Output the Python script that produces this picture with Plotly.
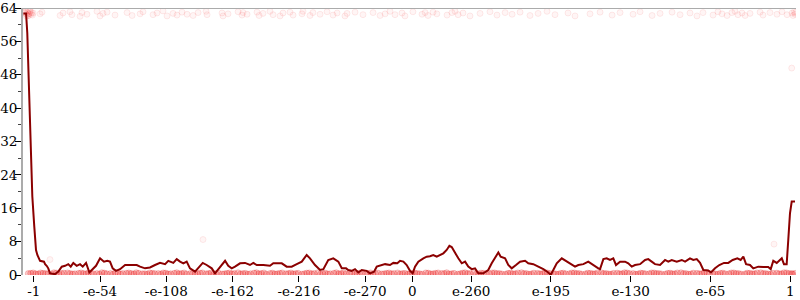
import plotly.graph_objects as go

# Horizontal positions use a signed-exponent scale:
#   -e-k  ->  k - 308.5      0 -> 0      e-k -> 308 - k
tick_pos = [-308.5, -254.5, -200.5, -146.5, -92.5, -38.5, 0, 48, 113, 178, 243, 308]
tick_text = ["-1", "-e-54", "-e-108", "-e-162", "-e-216", "-e-270", "0",
             "e-260", "e-195", "e-130", "e-65", "1"]

line_pos = [
    -317.0, -314.8, -313.8, -312.4, -311.3, -310.8, -309.7, -308.1, -306.7, -305.6,
    -303.4, -300.2, -299.3, -298.0, -296.7, -295.3, -291.2, -288.5,
    -285.7, -283.0, -280.4, -278.4, -276.3, -273.5, -270.8, -268.6, -265.9, -263.2,
    -260.5, -257.8, -254.5, -251.3, -248.6, -246.4, -244.2, -241.5, -238.2, -234.1,
    -224.6, -221.9, -217.8, -213.8, -209.7, -205.6, -201.5, -198.9, -194.8, -192.0,
    -189.3, -186.6, -183.9, -181.2, -177.1, -174.4, -170.8, -167.6, -163.5, -160.8, -156.7,
    -152.6, -150.0, -147.2, -144.5, -140.4, -136.3, -132.3, -129.6, -126.8, -121.4,
    -116.0, -113.3, -106.4, -102.4, -98.3, -94.2, -90.1, -86.1, -83.4, -79.3,
    -75.2, -72.5, -68.5, -64.4, -60.3, -57.5, -54.0, -52.2, -49.4, -46.7,
    -44.0, -41.2, -37.2, -34.5, -31.2, -29.0, -26.3, -22.2, -18.2, -15.5,
    -12.2, -10.0, -7.3, -4.6, -1.9, 0.3,
    2.2, 4.9, 9.0, 11.7, 14.4, 17.1, 19.9, 22.6, 25.3, 28.0,
    30.2, 32.1, 34.8, 37.5, 40.3, 43.0, 45.6, 48.4, 51.1, 53.8,
    57.9, 61.9, 64.7, 67.4, 70.1, 72.0, 75.6, 78.2, 81.0, 84.5,
    87.8, 91.9, 94.5, 98.6, 102.7, 106.8, 110.8, 112.8, 114.9, 117.7,
    121.8, 125.8, 128.5, 132.6, 135.3, 139.4, 143.4, 146.2, 148.9, 151.6, 153.0,
    155.7, 158.4, 161.1, 163.8, 166.0, 169.3, 173.4, 176.0, 178.8, 181.5,
    185.6, 189.7, 192.3, 195.1, 197.8, 201.9, 206.0, 208.6, 211.4, 215.5,
    219.6, 222.3, 226.3, 229.0, 231.8, 234.5, 237.2, 241.2, 243.4, 246.7,
    250.2, 254.0, 257.5, 261.1, 264.9, 267.6, 269.8, 272.0, 275.2, 277.9,
    282.0, 286.1, 290.1, 292.1, 294.2, 297.0, 301.1, 302.9, 305.1, 306.4,
    307.8, 309.2, 311.9,
]
line_val = [
    62.7, 62.7, 58.0, 45.0, 32.0, 26.0, 18.8, 11.6, 6.0, 4.8,
    3.4, 3.2, 2.6, 2.2, 1.6, 0.4, 0.2, 0.8,
    2.0, 2.2, 2.6, 2.0, 2.9, 2.2, 2.6, 2.0, 2.9, 0.6,
    1.4, 2.2, 4.0, 3.2, 3.4, 3.2, 1.6, 1.0, 1.4, 2.4,
    2.4, 2.0, 1.6, 1.8, 2.4, 2.9, 2.6, 3.4, 2.9, 3.8,
    3.2, 2.8, 3.2, 1.6, 0.8, 1.6, 2.9, 2.4, 1.6, 0.4, 2.0,
    3.4, 2.2, 1.6, 2.0, 2.8, 2.9, 2.4, 2.9, 2.4, 2.4,
    2.2, 2.8, 2.8, 2.0, 2.0, 2.6, 3.2, 4.8, 4.0, 2.4,
    1.2, 1.4, 3.6, 4.0, 3.2, 1.6, 1.6, 1.2, 1.0, 1.4,
    0.6, 1.2, 1.0, 0.4, 0.8, 2.0, 2.2, 2.6, 2.4, 2.9,
    2.8, 3.4, 3.2, 2.4, 1.0, 0.4,
    2.0, 3.2, 4.0, 4.4, 4.5, 4.8, 4.4, 4.8, 5.2, 6.0,
    7.0, 6.7, 5.2, 4.0, 2.8, 3.2, 2.0, 1.4, 1.6, 0.4,
    0.4, 1.2, 2.8, 4.0, 5.4, 4.4, 4.0, 2.4, 1.6, 2.4,
    3.2, 3.4, 2.8, 2.6, 2.0, 1.4, 0.6, 0.0, 1.2, 2.8,
    4.0, 3.2, 2.8, 2.0, 2.4, 2.6, 3.2, 2.6, 2.0, 1.6, 1.4,
    3.8, 4.0, 3.6, 4.0, 2.4, 3.2, 3.2, 2.8, 2.0, 2.4,
    2.6, 3.6, 3.8, 3.2, 2.6, 2.4, 3.6, 3.2, 3.6, 3.2,
    3.6, 3.2, 4.0, 3.6, 3.8, 2.9, 1.2, 1.1, 0.6, 1.6,
    2.4, 2.9, 2.9, 3.6, 4.0, 3.6, 4.4, 2.6, 2.4, 1.6,
    2.0, 1.9, 1.9, 1.4, 3.4, 2.9, 4.0, 2.6, 2.6, 8.4,
    14.8, 17.6, 17.6,
]

top_dots = [
    (-316.0, 63.0), (-315.7, 62.8), (-315.0, 63.2), (-314.7, 62.0), (-314.4, 62.4),
    (-313.8, 62.9), (-313.5, 62.1), (-313.2, 63.4), (-312.8, 62.6), (-312.6, 62.2),
    (-312.0, 62.7), (-311.7, 63.3), (-311.4, 63.1), (-310.8, 62.5), (-310.2, 62.9),
    (-309.6, 62.3), (-309.0, 62.8),
    (-303.4, 62.6), (-301.8, 63.0), (-287.1, 62.2), (-284.7, 62.8), (-279.0, 63.1),
    (-277.4, 62.4), (-270.8, 62.0), (-269.2, 62.9), (-265.2, 62.5), (-257.0, 63.2),
    (-254.5, 62.1), (-252.1, 62.7), (-248.8, 63.0), (-242.3, 62.3), (-232.5, 62.9),
    (-228.4, 62.2), (-221.9, 62.6), (-219.5, 63.1), (-211.3, 62.4), (-208.1, 62.8),
    (-203.2, 63.3), (-199.9, 62.1), (-195.0, 62.7), (-191.8, 62.3), (-187.7, 63.0),
    (-183.6, 62.5), (-178.7, 62.2), (-174.6, 62.9), (-168.1, 63.2), (-167.3, 62.4),
    (-155.1, 62.8), (-154.3, 62.1), (-150.2, 62.6), (-142.0, 63.1), (-138.8, 62.3),
    (-138.0, 62.9), (-134.7, 62.5), (-126.6, 63.0), (-124.9, 62.2), (-121.7, 62.7),
    (-116.0, 63.2), (-113.5, 62.4), (-107.8, 62.1), (-105.4, 62.8), (-99.7, 63.0),
    (-97.2, 62.3), (-89.9, 62.6), (-89.1, 63.2), (-83.4, 62.2), (-81.0, 62.9),
    (-75.2, 62.5), (-69.5, 63.1), (-64.6, 62.3), (-61.3, 62.8), (-54.9, 62.1),
    (-53.2, 62.7), (-46.7, 63.0), (-40.2, 62.4), (-32.0, 62.9), (-26.3, 62.2),
    (-22.2, 62.6), (-18.2, 63.2), (-14.1, 62.4), (-8.4, 62.8), (-6.0, 62.1),
    (0.5, 63.1), (7.9, 62.5), (10.4, 62.9), (12.8, 62.2), (16.9, 63.0),
    (20.0, 62.6), (28.3, 62.3), (32.3, 62.9), (34.8, 63.2), (37.3, 62.4),
    (41.3, 62.8), (47.0, 62.1), (55.2, 62.7), (63.3, 63.1), (69.0, 62.3),
    (75.6, 62.9), (81.3, 62.5), (87.8, 63.0), (95.9, 62.2), (102.5, 62.7),
    (109.8, 63.2), (116.3, 62.4), (126.9, 62.8), (132.6, 62.1), (144.8, 62.6),
    (153.0, 63.0), (162.8, 62.3), (169.3, 62.9), (179.9, 62.5), (185.6, 63.1),
    (195.4, 62.2), (201.9, 62.7), (211.7, 63.0), (218.2, 62.4), (226.3, 62.8),
    (232.0, 62.1), (236.9, 62.9), (245.1, 62.3), (249.1, 63.1), (252.4, 62.6),
    (256.5, 62.2), (260.5, 62.9), (263.0, 63.2), (265.4, 62.4), (268.7, 62.8),
    (271.2, 62.2), (275.2, 62.7), (283.4, 63.0), (285.8, 62.3), (291.5, 62.9),
    (297.2, 62.5), (301.3, 63.1), (305.4, 62.4),
    (309.5, 62.8), (310.3, 62.2), (311.1, 63.0), (311.9, 62.5), (312.4, 62.9),
]

bottom_dots = [
    (-313, 0.35), (-309, 0.5), (-305, 0.25), (-301, 0.4), (-297, 0.3), (-292, 0.55),
    (-288, 0.2), (-284, 0.45), (-279, 0.35), (-275, 0.3), (-270, 0.5), (-266, 0.25),
    (-262, 0.4), (-257, 0.35), (-253, 0.55), (-249, 0.3), (-244, 0.2), (-240, 0.45),
    (-236, 0.35), (-231, 0.5), (-227, 0.25), (-223, 0.4), (-218, 0.3), (-214, 0.5),
    (-210, 0.35), (-205, 0.2), (-201, 0.45), (-197, 0.3), (-192, 0.55), (-188, 0.35),
    (-184, 0.25), (-179, 0.4), (-175, 0.3), (-171, 0.5), (-166, 0.35), (-162, 0.2),
    (-158, 0.45), (-153, 0.3), (-149, 0.5), (-145, 0.35), (-140, 0.25), (-136, 0.4),
    (-132, 0.3), (-127, 0.55), (-123, 0.35), (-119, 0.2), (-114, 0.45), (-110, 0.3),
    (-106, 0.5), (-101, 0.35), (-97, 0.25), (-93, 0.4), (-88, 0.3), (-84, 0.5),
    (-80, 0.35), (-75, 0.2), (-71, 0.45), (-67, 0.3), (-62, 0.55), (-58, 0.35),
    (-54, 0.25), (-49, 0.4), (-45, 0.3), (-41, 0.5), (-36, 0.35), (-32, 0.2),
    (-28, 0.45), (-23, 0.3), (-19, 0.5), (-15, 0.35), (-10, 0.25), (-6, 0.4), (-2, 0.3),
    (2, 0.45), (6, 0.3), (11, 0.5), (15, 0.25), (19, 0.4), (24, 0.35), (28, 0.55),
    (32, 0.3), (37, 0.2), (41, 0.45), (45, 0.35), (50, 0.5), (54, 0.25), (58, 0.4),
    (63, 0.3), (67, 0.5), (71, 0.35), (76, 0.2), (80, 0.45), (84, 0.3), (89, 0.55),
    (93, 0.35), (97, 0.25), (102, 0.4), (106, 0.3), (110, 0.5), (115, 0.35), (119, 0.2),
    (123, 0.45), (128, 0.3), (132, 0.5), (136, 0.35), (141, 0.25), (145, 0.4), (149, 0.3),
    (154, 0.55), (158, 0.35), (162, 0.2), (167, 0.45), (171, 0.3), (175, 0.5), (180, 0.35),
    (184, 0.25), (188, 0.4), (193, 0.3), (197, 0.5), (201, 0.35), (206, 0.2), (210, 0.45),
    (214, 0.3), (219, 0.55), (223, 0.35), (227, 0.25), (232, 0.4), (236, 0.3), (240, 0.5),
    (245, 0.35), (249, 0.2), (253, 0.45), (258, 0.3), (262, 0.5), (266, 0.35), (271, 0.25),
    (275, 0.4), (279, 0.3), (284, 0.55), (288, 0.35), (292, 0.2), (297, 0.45), (301, 0.3),
    (305, 0.5), (309, 0.35), (312, 0.4),
    (-311, 0.4), (-307, 0.3), (-303, 0.5), (-299, 0.35), (-294, 0.25), (-290, 0.45),
    (-286, 0.35), (-281, 0.5), (-277, 0.25), (-272, 0.4), (-268, 0.35), (-264, 0.5),
    (-260, 0.3), (-255, 0.2), (-251, 0.45), (-246, 0.35), (-242, 0.5), (-238, 0.25),
    (-233, 0.4), (-229, 0.35), (-225, 0.55), (-220, 0.3), (-216, 0.2), (-212, 0.4),
    (-207, 0.35), (-203, 0.5), (-199, 0.25), (-194, 0.4), (-190, 0.3), (-186, 0.5),
    (-181, 0.35), (-177, 0.2), (-173, 0.45), (-168, 0.3), (-164, 0.5), (-160, 0.35),
    (-155, 0.25), (-151, 0.4), (-147, 0.3), (-142, 0.55), (-138, 0.35), (-134, 0.2),
    (-129, 0.45), (-125, 0.3), (-121, 0.5), (-116, 0.35), (-112, 0.25), (-108, 0.4),
    (-103, 0.3), (-99, 0.5), (-95, 0.35), (-90, 0.2), (-86, 0.45), (-82, 0.3),
    (-77, 0.55), (-73, 0.35), (-69, 0.25), (-64, 0.4), (-60, 0.3), (-56, 0.5),
    (-51, 0.35), (-47, 0.2), (-43, 0.45), (-38, 0.3), (-34, 0.5), (-30, 0.35),
    (-25, 0.25), (-21, 0.4), (-17, 0.3), (-12, 0.5), (-8, 0.35), (-4, 0.2), (0, 0.4),
    (4, 0.35), (8, 0.2), (13, 0.45), (17, 0.3), (21, 0.5), (26, 0.35), (30, 0.25),
    (34, 0.4), (39, 0.3), (43, 0.55), (47, 0.35), (52, 0.2), (56, 0.45), (60, 0.3),
    (65, 0.5), (69, 0.35), (73, 0.25), (78, 0.4), (82, 0.3), (86, 0.5), (91, 0.35),
    (95, 0.2), (99, 0.45), (104, 0.3), (108, 0.55), (112, 0.35), (117, 0.25), (121, 0.4),
    (125, 0.3), (130, 0.5), (134, 0.35), (138, 0.2), (143, 0.45), (147, 0.3), (151, 0.5),
    (156, 0.35), (160, 0.25), (164, 0.4), (169, 0.3), (173, 0.55), (177, 0.35), (182, 0.2),
    (186, 0.45), (190, 0.3), (195, 0.5), (199, 0.35), (203, 0.25), (208, 0.4), (212, 0.3),
    (216, 0.5), (221, 0.35), (225, 0.2), (229, 0.45), (234, 0.3), (238, 0.55), (242, 0.35),
    (247, 0.25), (251, 0.4), (255, 0.3), (260, 0.5), (264, 0.35), (268, 0.2), (273, 0.45),
    (277, 0.3), (281, 0.5), (286, 0.35), (290, 0.25), (294, 0.4), (299, 0.3), (303, 0.55),
    (307, 0.35), (310, 0.25),
]

stray_dots = [(-295.3, 3.7), (-170.6, 8.5), (294.8, 7.4), (309.2, 49.6)]

X_RANGE = [-317.3, 312.7]
Y_RANGE = [0, 64]
FONT = dict(family="DejaVu Serif", size=13.5, color="#000")
AXIS_GRAY = "#ababab"

fig = go.Figure()


def add_dots(pts, fill, edge):
    fig.add_trace(go.Scatter(
        x=[p[0] for p in pts], y=[p[1] for p in pts], mode="markers",
        marker=dict(size=6, color=fill, line=dict(color=edge, width=1)),
        showlegend=False, hoverinfo="skip"))


add_dots(top_dots + stray_dots, "rgba(255,0,0,0.04)", "rgba(230,0,0,0.08)")
add_dots(bottom_dots, "rgba(240,0,0,0.2)", "rgba(220,0,0,0.2)")

fig.add_trace(go.Scatter(
    x=line_pos, y=line_val, mode="lines",
    line=dict(color="#8b0000", width=2),
    showlegend=False, hoverinfo="skip"))

minor_out = dict(ticks="outside", ticklen=3, dtick=4, tick0=0, tickcolor="#444", showgrid=False)
minor_in = dict(ticks="inside", ticklen=3, dtick=4, tick0=0, tickcolor="#444", showgrid=False)
base_y = dict(range=Y_RANGE, dtick=8, tick0=0, showgrid=False, zeroline=False,
              tickcolor="#000", tickwidth=1, automargin=False)

fig.update_layout(
    template="none",
    width=800, height=300,
    margin=dict(l=23, r=4, t=8, b=25, autoexpand=False),
    paper_bgcolor="white", plot_bgcolor="white",
    font=FONT,
    xaxis=dict(range=X_RANGE, tickvals=tick_pos, ticktext=tick_text,
               ticks="outside", ticklen=6, tickcolor="#000", showline=False,
               showgrid=False, zeroline=False, tickfont=FONT, automargin=False,
               ticklabelstandoff=-2, ticklabeloverflow="allow"),
    yaxis=dict(base_y, side="left", anchor="x", showline=True, linecolor=AXIS_GRAY,
               linewidth=2, ticks="outside", ticklen=6, tickfont=FONT,
               ticklabelstandoff=-5, ticklabeloverflow="allow", minor=minor_out),
    yaxis2=dict(base_y, overlaying="y", side="left", anchor="x", showline=False,
                ticks="inside", ticklen=6, showticklabels=False, minor=minor_in),
    yaxis3=dict(base_y, overlaying="y", side="left", anchor="free", position=0.5036,
                showline=True, linecolor=AXIS_GRAY, linewidth=2,
                ticks="outside", ticklen=5, showticklabels=False, minor=minor_out),
    yaxis4=dict(base_y, overlaying="y", side="left", anchor="free", position=0.5036,
                showline=False, ticks="inside", ticklen=5, showticklabels=False,
                minor=minor_in),
    yaxis5=dict(base_y, overlaying="y", side="right", anchor="x", showline=True,
                linecolor=AXIS_GRAY, linewidth=2, ticks="inside", ticklen=7,
                showticklabels=False, minor=dict(minor_in, ticklen=4)),
    yaxis6=dict(base_y, overlaying="y", side="right", anchor="x", showline=False,
                ticks="outside", ticklen=5, showticklabels=False, minor=minor_out),
    shapes=[dict(type="line", xref="paper", yref="y", x0=0, x1=1, y0=64, y1=64,
                 line=dict(color=AXIS_GRAY, width=2))],
)

fig.write_html("out.html")
